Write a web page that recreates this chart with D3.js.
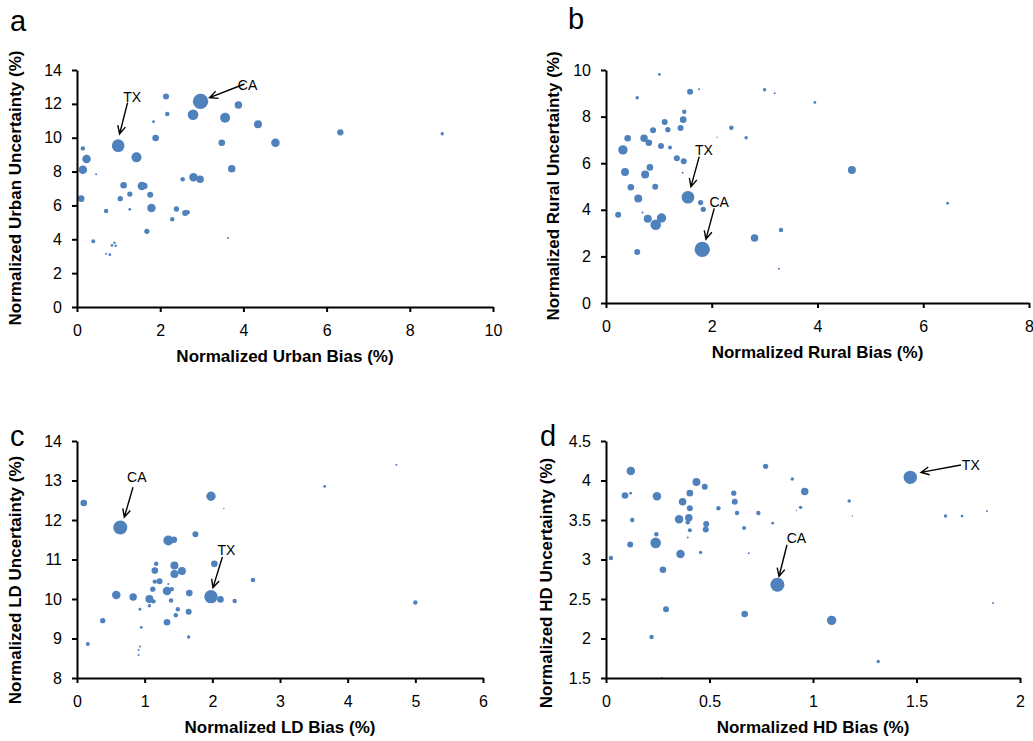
<!DOCTYPE html>
<html>
<head>
<meta charset="utf-8">
<script src="https://cdn.jsdelivr.net/npm/d3@7"></script>
<style>
  body { margin: 0; background: #fff; }
  text { font-family: "Liberation Sans", Arial, sans-serif; }
</style>
</head>
<body>
<div id="chart"></div>
<script>
// ---- data ----
// a: urban
const urbanBias = [0.14,0.23,0.14,0.46,0.10,0.39,0.70,0.70,0.79,0.84,0.90,0.93,0.99,1.04,1.12,1.27,1.27,1.43,1.56,1.62,1.68,1.76,1.79,1.84,1.89,2.14,2.17,2.29,2.39,2.54,2.60,2.66,2.79,2.80,2.96,2.97,3.48,3.56,3.63,3.72,3.88,4.35,4.77,6.33,8.78];
const urbanUnc  = [9.37,8.74,8.11,7.84,6.40,3.88,5.67,3.15,3.09,3.64,3.80,3.62,9.53,6.40,7.19,6.67,5.77,8.84,7.15,7.15,4.47,6.63,5.85,10.95,9.98,12.44,11.40,5.18,5.79,7.54,5.55,5.60,11.36,7.66,7.54,12.15,9.70,11.18,4.08,8.17,11.93,10.79,9.70,10.32,10.24];
const urbanWeight = [5,18,18,1,11,4,5,1,2,2,1.5,1.5,40,7,11,7,2,25,18,10,7,9,18,2,11,9,5,5,7,5,9,5,28,18,14,59,11,25,1,14,14,16,18,10,3];
const urbanCallouts = [["TX", 0.99, 9.53], ["CA", 2.97, 12.15]];

// b: rural
const ruralBias = [1.01,0.59,1.59,1.76,3.00,3.19,1.48,1.46,1.11,0.89,1.17,1.41,2.37,2.65,2.10,0.41,0.72,0.81,0.32,1.04,1.21,1.34,1.47,1.45,0.36,0.83,0.74,0.47,0.93,0.61,1.55,1.79,1.84,0.23,0.69,0.79,1.05,0.94,1.82,0.59,2.81,3.31,3.27,3.95,4.65,6.46];
const ruralUnc  = [9.81,8.81,9.07,9.17,9.15,9.00,8.21,7.87,7.77,7.41,7.44,7.51,7.52,7.09,7.11,7.07,7.07,6.88,6.57,6.74,6.67,6.21,6.08,5.59,5.62,5.82,5.51,4.97,4.99,4.48,4.54,4.31,4.02,3.79,3.88,3.62,3.65,3.36,2.30,2.19,2.79,3.13,1.47,8.61,5.71,4.28];
const ruralWeight = [2,3,9,1,3,1,5,11,9,9,7,9,5,3,0.5,11,14,11,22,9,4,9,9,1,16,11,16,11,9,16,40,7,7,9,1,16,22,28,59,9,14,5,1,2,16,2];
const ruralCallouts = [["TX", 1.55, 4.54], ["CA", 1.82, 2.30]];

// c: LD
const ldBias = [0.10,0.16,0.38,0.58,0.64,0.83,0.93,0.95,0.93,0.91,0.91,1.07,1.07,1.13,1.12,1.15,1.22,1.15,1.17,1.35,1.33,1.40,1.39,1.33,1.35,1.43,1.44,1.44,1.55,1.49,1.46,1.66,1.65,1.65,1.75,1.98,2.17,2.03,1.98,2.12,2.33,2.60,3.66,4.72,5.00];
const ldUnc  = [12.43,8.86,9.45,10.10,11.81,10.05,9.74,9.28,8.80,8.71,8.58,10.00,9.83,9.94,10.25,10.44,10.45,10.72,10.89,10.38,10.20,10.25,9.96,9.41,11.48,11.50,10.85,10.63,10.71,9.74,9.59,10.15,9.68,9.04,11.64,12.60,12.29,10.89,10.06,9.99,9.95,10.48,12.85,13.40,9.91];
const ldWeight = [11,4,7,18,49,14,2,2,1,1,1,16,3,5,7,5,9,11,5,1,18,5,5,11,25,11,16,16,16,5,5,11,9,3,9,22,0.5,11,45,11,5,5,2,1,5];
const ldCallouts = [["CA", 0.64, 11.81], ["TX", 1.98, 10.06]];

// d: HD
const hdBias = [0.024,0.12,0.092,0.119,0.127,0.117,0.246,0.243,0.24,0.275,0.29,0.22,0.27,0.37,0.405,0.405,0.353,0.40,0.395,0.405,0.395,0.36,0.437,0.477,0.484,0.482,0.457,0.543,0.617,0.622,0.633,0.667,0.67,0.69,0.736,0.771,0.805,0.828,0.90,0.92,0.94,0.96,1.175,1.19,1.47,1.64,1.72,1.84,1.87,1.09,1.315];
const hdUnc  = [3.02,4.12,3.81,3.84,3.50,3.19,3.80,3.32,3.21,2.87,2.37,2.02,1.50,3.73,3.84,3.65,3.51,3.53,3.47,3.37,3.28,3.07,3.98,3.92,3.45,3.38,3.09,3.65,3.84,3.73,3.59,3.40,2.31,3.08,3.59,4.18,3.46,2.68,4.02,3.62,3.66,3.86,3.74,3.55,4.04,3.55,3.55,3.61,2.45,2.23,1.71];
const hdWeight = [5,18,11,2,5,9,18,5,28,11,9,5,1,14,11,9,18,14,5,4,1,18,16,9,9,9,3,5,7,9,5,4,11,1,5,7,2,49,3,0.5,3,14,3,0.5,45,3,2,1,1,22,3];
const hdCallouts = [["CA", 0.828, 2.68], ["TX", 1.47, 4.04]];

// tick labels
const urbanXTicks = [0, 2, 4, 6, 8, 10];
const urbanYTicks = [0, 2, 4, 6, 8, 10, 12, 14];
const ruralXTicks = [0, 2, 4, 6, 8];
const ruralYTicks = [0, 2, 4, 6, 8, 10];
const ldXTicks = [0, 1, 2, 3, 4, 5, 6];
const ldYTicks = [8, 9, 10, 11, 12, 13, 14];
const hdXTicks = [0, 0.5, 1, 1.5, 2];
const hdYTicks = [1.5, 2, 2.5, 3, 3.5, 4, 4.5];

const zip = (xs, ys, ws) => xs.map((x, i) => ({x: x, y: ys[i], w: ws[i]}));

// panels: layout in pixels, arrows as offsets from the labelled point
const panels = [
  {letter: "a", lx: 10, ly: 31, left: 77, right: 493, top: 70, bottom: 307,
   xt: urbanXTicks, yt: urbanYTicks, pts: zip(urbanBias, urbanUnc, urbanWeight),
   xTitle: "Normalized Urban Bias (%)", yTitle: "Normalized Urban Uncertainty (%)", ytx: 21, yty: 188,
   callouts: urbanCallouts,
   offs: {TX: [[14,-44],[9.4,-43],[1.4,-11.7]], CA: [[47,-11],[44,-17.3],[9,-3.6]]}},
  {letter: "b", lx: 568, ly: 29, left: 606, right: 1029, top: 70, bottom: 303,
   xt: ruralXTicks, yt: ruralYTicks, pts: zip(ruralBias, ruralUnc, ruralWeight),
   xTitle: "Normalized Rural Bias (%)", yTitle: "Normalized Rural Uncertainty (%)", ytx: 559, yty: 186,
   callouts: ruralCallouts,
   offs: {TX: [[16,-42],[11.3,-40.6],[3,-10.6]], CA: [[17,-42],[12,-41],[3.7,-10.3]]}},
  {letter: "c", lx: 10, ly: 446, left: 77, right: 483, top: 441, bottom: 678,
   xt: ldXTicks, yt: ldYTicks, pts: zip(ldBias, ldUnc, ldWeight),
   xTitle: "Normalized LD Bias (%)", yTitle: "Normalized LD Uncertainty (%)", ytx: 21, yty: 580,
   callouts: ldCallouts,
   offs: {CA: [[16.5,-45.3],[12.7,-40.3],[4,-10.3]], TX: [[15.5,-41.3],[11.4,-39.6],[2,-9]]}},
  {letter: "d", lx: 540, ly: 446, left: 606, right: 1020, top: 441, bottom: 678,
   xt: hdXTicks, yt: hdYTicks, pts: zip(hdBias, hdUnc, hdWeight),
   xTitle: "Normalized HD Bias (%)", yTitle: "Normalized HD Uncertainty (%)", ytx: 552, yty: 583,
   callouts: hdCallouts,
   offs: {CA: [[19,-42],[9.6,-40],[1.6,-8.3]], TX: [[60.5,-7.3],[50.7,-12.3],[10.7,-5]]}}
];

const svg = d3.select("#chart").append("svg")
  .attr("width", 1033).attr("height", 741)
  .style("background-color", "white");

const rScale = d3.scaleSqrt().domain([0, 60]).range([0, 7.75]);

panels.forEach(p => {
  const x = d3.scaleLinear().domain([p.xt[0], p.xt[p.xt.length - 1]]).range([p.left, p.right]);
  const y = d3.scaleLinear().domain([p.yt[0], p.yt[p.yt.length - 1]]).range([p.bottom, p.top]);
  const g = svg.append("g");

  g.selectAll("circle")
    .data(p.pts)
    .enter()
    .append("circle")
    .attr("cx", d => x(d.x))
    .attr("cy", d => y(d.y))
    .attr("r", d => rScale(d.w))
    .style("fill", "#4f81bd");

  const xAxis = g.append("g")
    .attr("transform", `translate(0,${p.bottom})`)
    .call(d3.axisBottom(x).tickValues(p.xt).tickFormat(d3.format("")).tickSize(5).tickSizeOuter(0).tickPadding(13));
  const yAxis = g.append("g")
    .attr("transform", `translate(${p.left},0)`)
    .call(d3.axisLeft(y).tickValues(p.yt).tickFormat(d3.format("")).tickSize(5).tickSizeOuter(0).tickPadding(10));
  [xAxis, yAxis].forEach(a => {
    a.attr("font-size", null).attr("font-family", null);
    a.select(".domain").attr("stroke", "#000").attr("stroke-width", 2);
    a.selectAll(".tick line").attr("stroke", "#000").attr("stroke-width", 2);
    a.selectAll(".tick text").attr("fill", "#000").style("font-size", "16px");
  });

  g.append("text")
    .attr("x", (p.left + p.right) / 2).attr("y", p.bottom + 55)
    .attr("text-anchor", "middle")
    .style("font-size", "17px").style("font-weight", "bold")
    .text(p.xTitle);
  g.append("text")
    .attr("transform", `translate(${p.ytx},${p.yty}) rotate(-90)`)
    .attr("text-anchor", "middle")
    .style("font-size", "17px").style("font-weight", "bold")
    .text(p.yTitle);
  g.append("text")
    .attr("x", p.lx).attr("y", p.ly)
    .style("font-size", "29px")
    .text(p.letter);

  // callouts
  p.callouts.forEach(c => {
    const cx = x(c[1]), cy = y(c[2]);
    const o = p.offs[c[0]];
    const x1 = cx + o[1][0], y1 = cy + o[1][1];
    const x2 = cx + o[2][0], y2 = cy + o[2][1];
    const ang = Math.atan2(y2 - y1, x2 - x1);
    const hl = 9, ha = 0.45;
    const h1 = [x2 - hl * Math.cos(ang - ha), y2 - hl * Math.sin(ang - ha)];
    const h2 = [x2 - hl * Math.cos(ang + ha), y2 - hl * Math.sin(ang + ha)];
    g.append("path")
      .attr("d", `M ${x1} ${y1} L ${x2} ${y2} M ${h1[0]} ${h1[1]} L ${x2} ${y2} L ${h2[0]} ${h2[1]}`)
      .attr("fill", "none").attr("stroke", "#000").attr("stroke-width", 1.4);
    g.append("text")
      .attr("x", cx + o[0][0]).attr("y", cy + o[0][1])
      .attr("text-anchor", "middle")
      .style("font-size", "14px")
      .text(c[0]);
  });
});
</script>
</body>
</html>
